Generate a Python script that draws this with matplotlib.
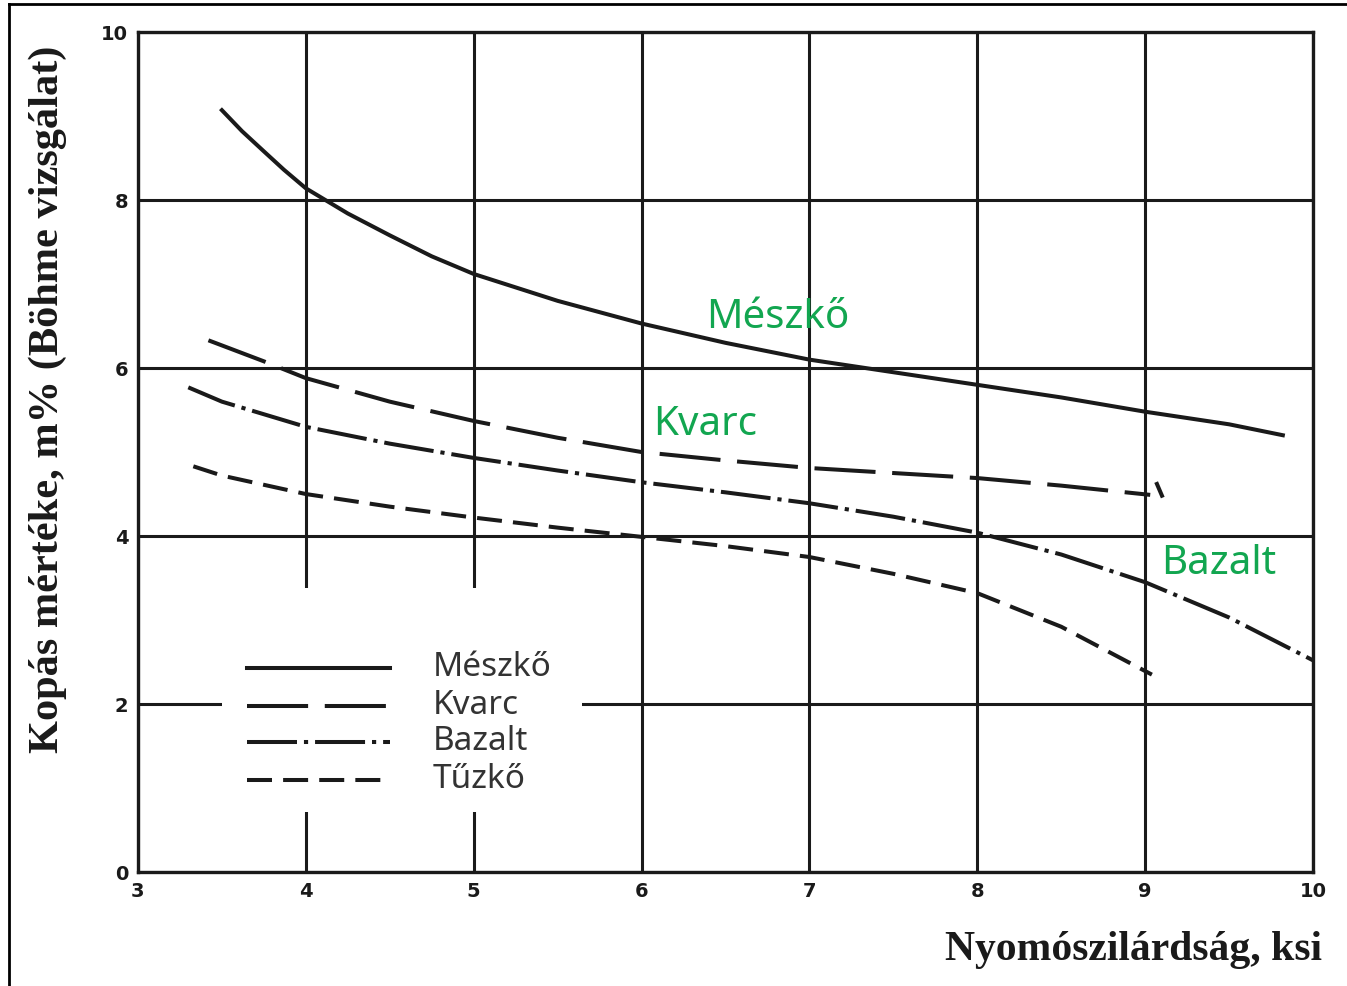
import matplotlib
matplotlib.use('Agg')
import matplotlib.pyplot as plt
from matplotlib.lines import Line2D
from matplotlib.patches import Rectangle

plt.rcParams['lines.scale_dashes'] = False

# Mészkő (tömör vonal)
meszko_x = [3.5, 3.62, 3.75, 3.87, 4.0, 4.25, 4.5, 4.75, 5.0, 5.5, 6.0, 6.5, 7.0, 7.5, 8.0, 8.5, 9.0, 9.5, 9.82]
meszko_y = [9.07, 8.82, 8.58, 8.36, 8.14, 7.84, 7.58, 7.33, 7.12, 6.8, 6.53, 6.3, 6.1, 5.95, 5.8, 5.65, 5.48, 5.33, 5.2]

# Kvarc (hosszú szaggatott)
kvarc_x = [3.42, 3.75, 4.0, 4.5, 5.0, 5.5, 6.0, 6.5, 7.0, 7.5, 8.0, 8.5, 9.03]
kvarc_y = [6.33, 6.08, 5.88, 5.6, 5.37, 5.17, 5.0, 4.9, 4.81, 4.75, 4.69, 4.6, 4.49]
kvarc_tick_x = [9.07, 9.1]
kvarc_tick_y = [4.62, 4.48]

# Bazalt (pont-vonal)
bazalt_x = [3.3, 3.5, 4.0, 4.5, 5.0, 5.5, 6.0, 6.5, 7.0, 7.5, 8.0, 8.5, 9.0, 9.5, 10.0]
bazalt_y = [5.77, 5.6, 5.3, 5.1, 4.93, 4.78, 4.64, 4.52, 4.39, 4.23, 4.04, 3.78, 3.45, 3.03, 2.52]

# Tűzkő (rövid szaggatott)
tuzko_x = [3.33, 3.5, 4.0, 4.5, 5.0, 5.5, 6.0, 6.5, 7.0, 7.5, 8.0, 8.5, 9.04]
tuzko_y = [4.83, 4.72, 4.5, 4.35, 4.22, 4.1, 3.99, 3.88, 3.75, 3.55, 3.32, 2.92, 2.35]

names = ['Mészkő', 'Kvarc', 'Bazalt', 'Tűzkő']
styles = ['-', (0, (44, 12)), (0, (36, 5, 3, 5)), (0, (18, 8))]

x_ticks = [3, 4, 5, 6, 7, 8, 9, 10]
y_ticks = [0, 2, 4, 6, 8, 10]

green = '#12a650'
ink = '#1a1a1a'
lw = 2.9

fig = plt.figure(figsize=(13.47, 9.86), dpi=100)
ax = fig.add_axes([0.1024, 0.1156, 0.8724, 0.8519])

ax.set_xlim(3, 10)
ax.set_ylim(0, 10)
ax.set_xticks(x_ticks)
ax.set_yticks(y_ticks)
ax.grid(True, color=ink, linewidth=2.2, zorder=1)
ax.set_axisbelow(True)
for s in ax.spines.values():
    s.set_linewidth(2.4)
    s.set_color(ink)
ax.tick_params(length=0, pad=7, labelsize=14, colors=ink)
for lab in ax.get_xticklabels() + ax.get_yticklabels():
    lab.set_fontweight('bold')

# fehér háttér a jelmagyarázat alatt
ax.add_patch(Rectangle((0.0715, 0.0714), 0.3065, 0.2666, transform=ax.transAxes,
                       facecolor='white', edgecolor='none', zorder=2))

series = [(meszko_x, meszko_y), (kvarc_x, kvarc_y), (bazalt_x, bazalt_y), (tuzko_x, tuzko_y)]
for (xs, ys), st in zip(series, styles):
    ax.plot(xs, ys, color=ink, linewidth=lw, linestyle=st, zorder=3)
ax.plot(kvarc_tick_x, kvarc_tick_y, color=ink, linewidth=lw, zorder=3)

# jelmagyarázat kézzel
leg_rows = [0.243, 0.198, 0.155, 0.110]
for name, st, yy in zip(names, styles, leg_rows):
    ax.plot([0.0928, 0.2145], [yy, yy], transform=ax.transAxes, color=ink,
            linewidth=lw, linestyle=st, zorder=4)
    ax.text(0.251, yy, name, transform=ax.transAxes, fontsize=24, color='#333333',
            family='Noto Sans', va='center', ha='left', zorder=4)

# zöld feliratok
ax.text(6.81, 6.59, 'Mészkő', color=green, fontsize=29, family='Noto Sans',
        ha='center', va='center', zorder=5)
ax.text(6.38, 5.32, 'Kvarc', color=green, fontsize=29, family='Noto Sans',
        ha='center', va='center', zorder=5)
ax.text(9.44, 3.67, 'Bazalt', color=green, fontsize=29, family='Noto Sans',
        ha='center', va='center', zorder=5)

fig.text(1322 / 1347, 1 - 950 / 986, 'Nyomószilárdság, ksi', ha='right', va='center',
         fontsize=30, fontweight='bold', family='Liberation Serif', color=ink)
fig.text(48 / 1347, 1 - 399 / 986, 'Kopás mértéke, m% (Böhme vizsgálat)', rotation=90,
         ha='center', va='center', fontsize=30.5, fontweight='bold',
         family='Liberation Serif', color=ink)

# keret
fig.add_artist(Line2D([9 / 1347, 9 / 1347], [0, 1 - 4 / 986], transform=fig.transFigure,
                      color='black', linewidth=2))
fig.add_artist(Line2D([9 / 1347, 1], [1 - 4 / 986, 1 - 4 / 986], transform=fig.transFigure,
                      color='black', linewidth=2))

fig.savefig('out.png', dpi=100, facecolor='white')
